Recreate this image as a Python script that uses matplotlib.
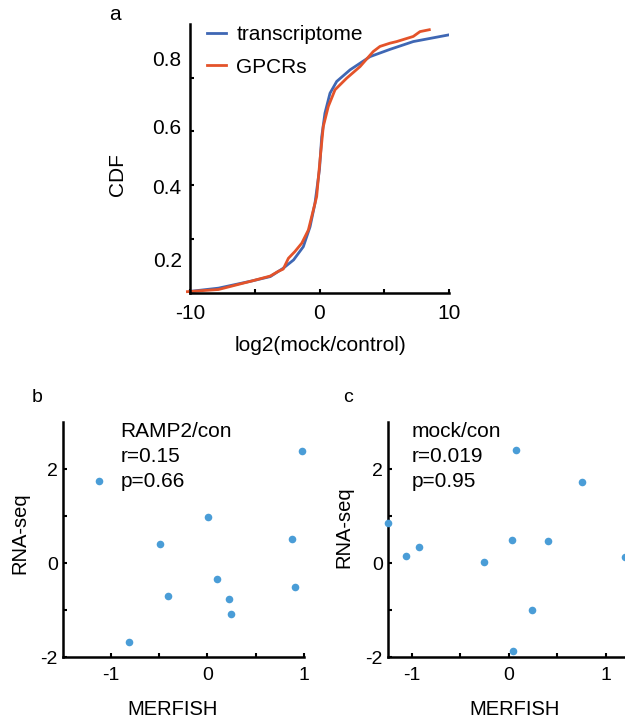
import numpy as np
import matplotlib.pyplot as plt

plt.rcParams['font.family'] = ['Liberation Sans', 'DejaVu Sans']
plt.rcParams['axes.unicode_minus'] = False

# panel a: cumulative distributions
tx_x = [-10, -7.8, -5.2, -3.8, -2.8, -2.0, -1.25, -0.73, -0.35, 0, 0.17, 0.42, 0.81, 1.33,
        2.36, 3.9, 5.44, 7.24, 10]
tx_y = [0.006, 0.018, 0.045, 0.061, 0.092, 0.123, 0.172, 0.246, 0.333, 0.46, 0.58, 0.668,
        0.742, 0.786, 0.829, 0.878, 0.905, 0.934, 0.959]
gp_x = [-10.2, -7.8, -5.2, -3.8, -3.2, -2.8, -2.4, -1.9, -1.37, -0.86, -0.22, 0.04, 0.29,
        0.68, 1.2, 2.1, 3.13, 4.15, 4.67, 5.44, 5.96, 7.24, 7.76, 8.48]
gp_y = [0.005, 0.013, 0.045, 0.063, 0.08, 0.089, 0.129, 0.154, 0.185, 0.234, 0.358, 0.494,
        0.618, 0.693, 0.755, 0.798, 0.841, 0.897, 0.916, 0.928, 0.934, 0.953, 0.971, 0.978]

# panel b / c: MERFISH vs RNA-seq log ratios
b_merfish = [-1.126, 0.983, 0.003, -0.497, 0.878, 0.098, -0.406, 0.224, 0.245, 0.909, -0.808]
b_rnaseq = [1.74, 2.38, 0.99, 0.40, 0.52, -0.33, -0.71, -0.76, -1.085, -0.52, -1.67]
c_merfish = [-1.252, -1.063, -0.926, -0.257, 0.034, 0.069, 0.401, 0.751, 0.237, 0.045, 1.194]
c_rnaseq = [0.85, 0.16, 0.35, 0.03, 0.50, 2.40, 0.48, 1.72, -0.99, -1.87, 0.13]

b_text = ['RAMP2/con', 'r=0.15', 'p=0.66']
c_text = ['mock/con', 'r=0.019', 'p=0.95']

blue = '#3f67b4'
orange = '#e4532a'
dot = '#4a9dd7'

W, H = 625, 719
fig = plt.figure(figsize=(W / 100, H / 100), dpi=100)


def px_axes(left, top, right, bottom):
    return fig.add_axes([left / W, 1 - bottom / H, (right - left) / W, (bottom - top) / H])


def style(ax, fs):
    for s in ['top', 'right']:
        ax.spines[s].set_visible(False)
    for s in ['left', 'bottom']:
        ax.spines[s].set_linewidth(1.8)
    ax.tick_params(which='both', direction='in', length=3, width=1.5, labelsize=fs)


# ---- a
ax = px_axes(190, 23.8, 449, 293)
style(ax, 15)
ax.plot(tx_x, tx_y, color=blue, lw=2, label='transcriptome')
ax.plot(gp_x, gp_y, color=orange, lw=2, label='GPCRs', clip_on=False)
ax.set_xlim(-10, 10)
ax.set_ylim(0, 1)
ax.set_xticks([-10, 0, 10])
ax.set_xticks([-5, 5], minor=True)
ax.set_yticks([0.2, 0.4, 0.6, 0.8], minor=True)
# labels sit off the tick marks in the original figure
ax.set_yticks([0.126, 0.396, 0.619, 0.871], ['0.2', '0.4', '0.6', '0.8'])
ax.tick_params(axis='y', which='major', length=0, pad=6)
ax.tick_params(axis='x', which='major', pad=8)
ax.set_xlabel('log2(mock/control)', fontsize=15)
ax.xaxis.set_label_coords(0.502, -0.16)
ax.set_ylabel('CDF', fontsize=15)
ax.yaxis.set_label_coords(-0.244, 0.439)
ax.legend(loc='upper left', bbox_to_anchor=(0.066, 0.995), frameon=False, fontsize=15,
          handlelength=0.9, handletextpad=0.5, labelspacing=0.65, borderpad=0, borderaxespad=0)
fig.text(115 / W, 1 - 15 / H, 'a', fontsize=15, ha='center', va='center')


def scatter_panel(left, right, xlim, xs, ys, lines, letter, letter_x, text_x, xl_x, yl_x, yl_y):
    ax = px_axes(left, 422.2, right, 657)
    style(ax, 14)
    ax.scatter(xs, ys, s=30, color=dot, linewidths=0, clip_on=False, zorder=3)
    ax.set_xlim(*xlim)
    ax.set_ylim(-2, 3)
    ax.set_xticks([-1, 0, 1])
    ax.set_xticks([-0.5, 0.5], minor=True)
    ax.set_yticks([-2, 0, 2])
    ax.set_yticks([-1, 1], minor=True)
    ax.tick_params(axis='x', pad=7)
    ax.set_xlabel('MERFISH', fontsize=14.5)
    ax.xaxis.set_label_coords(xl_x, -0.183)
    ax.set_ylabel('RNA-seq', fontsize=14.5)
    ax.yaxis.set_label_coords(yl_x, yl_y)
    ax.text(text_x, 1.0, '\n'.join(lines), transform=ax.transAxes, fontsize=15,
            va='top', ha='left', linespacing=1.4)
    fig.text(letter_x / W, 1 - 398 / H, letter, fontsize=14, ha='center', va='center')


scatter_panel(62.7, 304, (-1.5, 1), b_merfish, b_rnaseq, b_text, 'b', 37, 0.24, 0.457, -0.14, 0.528)
scatter_panel(387.7, 630.2, (-1.25, 1.25), c_merfish, c_rnaseq, c_text, 'c', 348, 0.097, 0.525, -0.14, 0.554)

fig.savefig('out.png', dpi=100)
